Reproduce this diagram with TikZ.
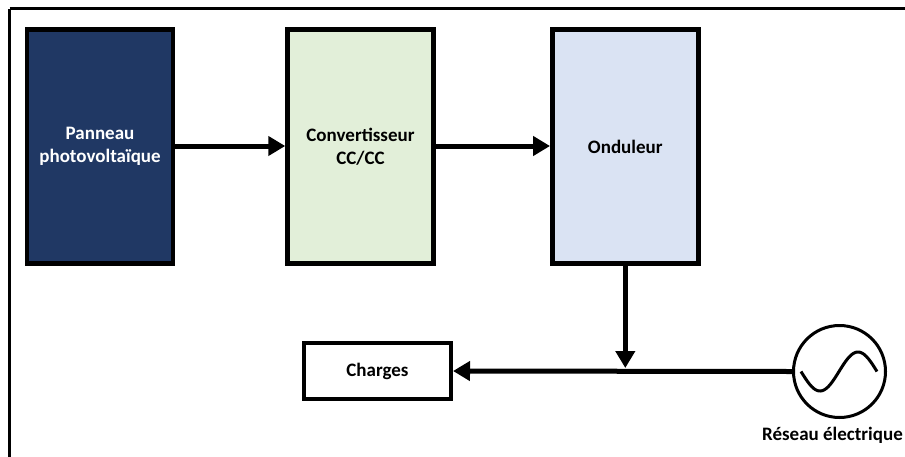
\documentclass[tikz,border=0pt]{standalone}
\usepackage{fontspec}
\setmainfont{Carlito}
\usetikzlibrary{arrows.meta}

\definecolor{pvblue}{HTML}{203864}
\definecolor{dcgreen}{HTML}{E2EFD9}
\definecolor{invblue}{HTML}{DAE3F3}

\tikzset{
  labelfont/.style={font=\bfseries\fontsize{19}{23}\selectfont},
  block/.style={draw=black, line width=4.5pt, minimum width=146pt, minimum height=234pt,
    inner sep=2pt, align=center, labelfont},
  loadbox/.style={draw=black, line width=4pt, minimum width=147pt, minimum height=56pt,
    inner sep=2pt, labelfont},
  flow/.style={line width=5pt, -{Triangle[length=17pt,width=19pt]}},
  source/.style={circle, draw=black, line width=3pt, minimum size=92pt, inner sep=0pt},
  caption/.style={labelfont, inner sep=0pt}
}

\begin{document}
\begin{tikzpicture}[x=1pt, y=-1pt]
  \useasboundingbox (0,0) rectangle (905,456);

  % outer frame (top and left edges)
  \draw[line width=3pt, black] (9.5,8.5) -- (910,8.5);
  \draw[line width=3pt, black] (9.5,8.5) -- (9.5,460);

  % processing chain
  \node[block, fill=pvblue, text=white] (pv) at (100,146.5) {Panneau\\photovoltaïque};
  \node[block, fill=dcgreen] (dcdc) at (360.5,146.5) {Convertisseur\\CC/CC};
  \node[block, fill=invblue] (inv) at (625.3,146.5) {Onduleur};

  % loads and grid source
  \node[loadbox] (load) at (377.5,371) {Charges};
  \node[source] (grid) at (839.5,371.5) {};
  \draw[line width=3pt] ([xshift=-38.5pt]grid.center)
    plot[domain=0:360, samples=72, smooth] ({839.5-38.5+\x/360*76}, {371.5+19.5*sin(\x)});
  \node[caption] (gridlabel) at (832.5,435) {Réseau électrique};

  % bus junction
  \coordinate (tap) at (625.3,368);

  % connections
  \draw[flow] (pv.east |- 0,146) -- (dcdc.west |- 0,146);
  \draw[flow] (dcdc.east |- 0,146) -- (inv.west |- 0,146);
  \draw[flow] (inv.south) -- (tap);
  \draw[flow] (grid.west) -- (load.east);
\end{tikzpicture}
\end{document}
